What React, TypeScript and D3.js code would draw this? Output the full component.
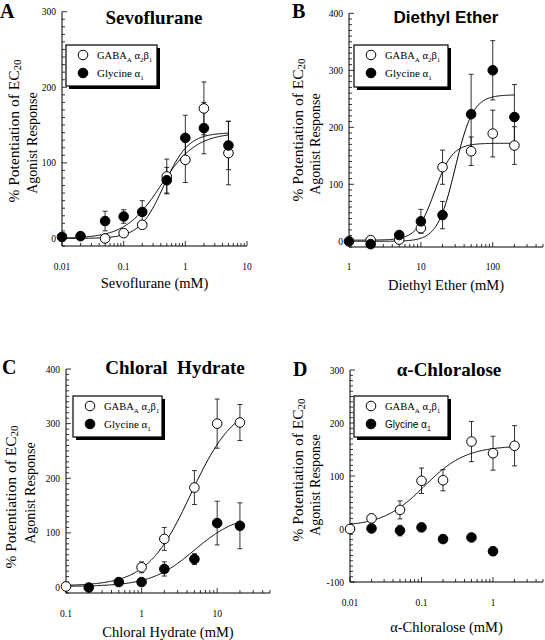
import React from 'react';
import * as d3 from 'd3';

// ---------- Panel A: Sevoflurane ----------
const sevoGabaX = [0.05, 0.1, 0.2, 0.5, 1, 2, 5];
const sevoGabaY = [0, 7, 18, 82, 104, 172, 113];
const sevoGabaErr = [3, 4, 5, 23, 30, 35, 42];
const sevoGlyX = [0.01, 0.02, 0.05, 0.1, 0.2, 0.5, 1, 2, 5];
const sevoGlyY = [2, 3, 23, 29, 35, 77, 133, 146, 123];
const sevoGlyErr = [0, 0, 13, 9, 15, 17, 30, 34, 32];
// Hill fit: bottom, top, EC50, n
const sevoGabaFit = [0, 140, 0.45, 2.2];
const sevoGlyFit = [0, 140, 0.4, 1.5];
const sevoFitRange = [0.01, 5];
const sevoXTicks = [0.01, 0.1, 1, 10];
const sevoXTickLabels = ['0.01', '0.1', '1', '10'];
const sevoYTicks = [0, 100, 200, 300];
const sevoYTickLabels = ['0', '100', '200', '300'];

// ---------- Panel B: Diethyl Ether ----------
const etherGabaX = [2, 5, 10, 20, 50, 100, 200];
const etherGabaY = [2, 3, 23, 130, 158, 189, 168];
const etherGabaErr = [0, 0, 5, 30, 25, 41, 33];
const etherGlyX = [1, 2, 5, 10, 20, 50, 100, 200];
const etherGlyY = [0, -5, 11, 35, 46, 223, 300, 218];
const etherGlyErr = [0, 0, 0, 21, 24, 70, 52, 57];
const etherGabaFit = [2, 172, 15.5, 3.5];
const etherGlyFit = [0, 257, 30, 3.5];
const etherFitRange = [1, 200];
const etherXTicks = [1, 10, 100];
const etherXTickLabels = ['1', '10', '100'];
const etherYTicks = [0, 100, 200, 300, 400];
const etherYTickLabels = ['0', '100', '200', '300', '400'];

// ---------- Panel C: Chloral Hydrate ----------
const chloralGabaX = [0.1, 1, 2, 5, 10, 20];
const chloralGabaY = [2, 37, 89, 183, 300, 302];
const chloralGabaErr = [0, 10, 21, 31, 45, 33];
const chloralGlyX = [0.2, 0.5, 1, 2, 5, 10, 20];
const chloralGlyY = [0, 10, 10, 34, 52, 118, 113];
const chloralGlyErr = [0, 0, 0, 13, 10, 40, 42];
const chloralGabaFit = [3, 340, 4.5, 1.5];
const chloralGlyFit = [2, 135, 5, 1.5];
const chloralFitRange = [0.1, 20];
const chloralXTicks = [0.1, 1, 10];
const chloralXTickLabels = ['0.1', '1', '10'];
const chloralYTicks = [0, 100, 200, 300, 400];
const chloralYTickLabels = ['0', '100', '200', '300', '400'];

// ---------- Panel D: alpha-Chloralose ----------
const chloraloseGabaX = [0.01, 0.02, 0.05, 0.1, 0.2, 0.5, 1, 2];
const chloraloseGabaY = [0, 20, 36, 91, 92, 165, 143, 157];
const chloraloseGabaErr = [0, 8, 17, 24, 20, 38, 32, 38];
const chloraloseGlyX = [0.02, 0.05, 0.1, 0.2, 0.5, 1];
const chloraloseGlyY = [1, -3, 3, -19, -16, -42];
const chloraloseGlyErr = [0, 10, 0, 0, 0, 8];
const chloraloseGabaFit = [5, 157, 0.11, 1.5];
const chloraloseFitRange = [0.01, 2];
const chloraloseXTicks = [0.01, 0.1, 1];
const chloraloseXTickLabels = ['0.01', '0.1', '1'];
const chloraloseYTicks = [-100, 0, 100, 200, 300];
const chloraloseYTickLabels = ['-100', '0', '100', '200', '300'];

const SERIF = "'Liberation Serif', 'Times New Roman', serif";
const SANS = "'Liberation Sans', Arial, Helvetica, sans-serif";

type Series = { x: number[]; y: number[]; err: number[]; filled: boolean };
type Fit = { p: number[]; range: number[] };
type PanelCfg = {
  letter: string;
  letterPos: [number, number];
  title: string;
  titleFont: string;
  titlePos: [number, number];
  xTitle: string;
  xTitleY: number;
  xDomain: [number, number];
  xRange: [number, number];
  yDomain: [number, number];
  yRange: [number, number];
  xTicks: number[];
  xTickLabels: string[];
  xLabelY: number;
  yTicks: number[];
  yTickLabels: string[];
  series: Series[];
  fits: Fit[];
  legend: [number, number, number, number];
  legendGlyFont: string;
  yTitle1: [number, number];
  yTitle2: [number, number];
};

const hill = (p: number[], x: number) => p[0] + (p[1] - p[0]) / (1 + Math.pow(p[2] / x, p[3]));

function Panel({ c }: { c: PanelCfg }) {
  const x = d3.scaleLog().domain(c.xDomain).range(c.xRange);
  const y = d3.scaleLinear().domain(c.yDomain).range(c.yRange);
  const [x0, x1] = c.xRange;
  const [yb, yt] = c.yRange;

  const yMinor = d3.range(c.yDomain[0], c.yDomain[1] + 0.001, 10);
  const kMin = Math.floor(Math.log10(c.xDomain[0]) + 1e-9);
  const kMax = Math.ceil(Math.log10(c.xDomain[1]));
  const xTickAll: { v: number; major: boolean }[] = [];
  for (let k = kMin; k <= kMax; k++) {
    for (let m = 1; m <= 9; m++) {
      const v = m * Math.pow(10, k);
      if (v >= c.xDomain[0] * 0.9999 && v <= c.xDomain[1] * 1.0001) xTickAll.push({ v, major: m === 1 });
    }
  }

  const line = d3
    .line<number[]>()
    .x((d) => x(d[0]))
    .y((d) => y(d[1]));

  const [lx, ly, lw, lh] = c.legend;

  return (
    <g>
      {/* panel letter */}
      <text x={c.letterPos[0]} y={c.letterPos[1]} fontFamily={SERIF} fontWeight="bold" fontSize={20}>
        {c.letter}
      </text>
      {/* title */}
      <text
        x={c.titlePos[0]}
        y={c.titlePos[1]}
        textAnchor="middle"
        fontFamily={c.titleFont}
        fontWeight="bold"
        fontSize={c.titleFont === SANS ? 17 : 19}
        style={{ whiteSpace: 'pre' }}
      >
        {c.title}
      </text>

      {/* axes */}
      <line x1={x0} x2={x0} y1={yb} y2={yt} stroke="#000" strokeWidth={1} />
      <line x1={x0} x2={x1} y1={yb} y2={yb} stroke="#000" strokeWidth={1} />
      {yMinor.map((v, i) => {
        const major = Math.abs(v % 100) < 1e-6;
        return <line key={'ym' + i} x1={x0} x2={x0 + (major ? 5 : 3)} y1={y(v)} y2={y(v)} stroke="#000" strokeWidth={0.8} />;
      })}
      {xTickAll.map((t, i) => (
        <line key={'xm' + i} x1={x(t.v)} x2={x(t.v)} y1={yb} y2={yb - (t.major ? 5 : 3)} stroke="#000" strokeWidth={0.8} />
      ))}
      {c.yTicks.map((v, i) => (
        <text key={'yl' + i} x={x0 - 6} y={y(v) + 3.5} textAnchor="end" fontFamily={SERIF} fontSize={9.5}>
          {c.yTickLabels[i]}
        </text>
      ))}
      {c.xTicks.map((v, i) => (
        <text key={'xl' + i} x={x(v)} y={c.xLabelY} textAnchor="middle" fontFamily={SERIF} fontSize={9.5}>
          {c.xTickLabels[i]}
        </text>
      ))}

      {/* axis titles */}
      <text x={(x0 + x1) / 2} y={c.xTitleY} textAnchor="middle" fontFamily={SERIF} fontSize={14.5}>
        {c.xTitle}
      </text>
      <text
        transform={`translate(${c.yTitle1[0]},${c.yTitle1[1]}) rotate(-90)`}
        textAnchor="middle"
        dominantBaseline="central"
        fontFamily={SERIF}
        fontSize={15.5}
      >
        % Potentiation of EC<tspan fontSize={11} dy={4}>20</tspan>
      </text>
      <text
        transform={`translate(${c.yTitle2[0]},${c.yTitle2[1]}) rotate(-90)`}
        textAnchor="middle"
        dominantBaseline="central"
        fontFamily={SERIF}
        fontSize={14}
      >
        Agonist Response
      </text>

      {/* fitted curves */}
      {c.fits.map((f, i) => {
        const pts = d3.range(0, 201).map((j) => {
          const xv = f.range[0] * Math.pow(f.range[1] / f.range[0], j / 200);
          return [xv, hill(f.p, xv)];
        });
        return <path key={'f' + i} d={line(pts) || ''} fill="none" stroke="#000" strokeWidth={1} />;
      })}

      {/* error bars */}
      {c.series.map((s, si) =>
        s.x.map((xv, i) =>
          s.err[i] > 0 ? (
            <g key={'e' + si + '-' + i} stroke="#000" strokeWidth={0.8}>
              <line x1={x(xv)} x2={x(xv)} y1={y(s.y[i] - s.err[i])} y2={y(s.y[i] + s.err[i])} />
              <line x1={x(xv) - 2.5} x2={x(xv) + 2.5} y1={y(s.y[i] - s.err[i])} y2={y(s.y[i] - s.err[i])} />
              <line x1={x(xv) - 2.5} x2={x(xv) + 2.5} y1={y(s.y[i] + s.err[i])} y2={y(s.y[i] + s.err[i])} />
            </g>
          ) : null
        )
      )}

      {/* markers */}
      {c.series.map((s, si) =>
        s.x.map((xv, i) => (
          <circle
            key={'m' + si + '-' + i}
            cx={x(xv)}
            cy={y(s.y[i])}
            r={4.8}
            fill={s.filled ? '#000' : '#fff'}
            stroke="#000"
            strokeWidth={1}
          />
        ))
      )}

      {/* legend */}
      <rect x={lx + 3} y={ly + 3} width={lw} height={lh} fill="#000" />
      <rect x={lx} y={ly} width={lw} height={lh} fill="#fff" stroke="#000" strokeWidth={1.2} />
      <circle cx={lx + 17} cy={ly + 10} r={4.8} fill="#fff" stroke="#000" strokeWidth={1} />
      <circle cx={lx + 17} cy={ly + 28} r={4.8} fill="#000" stroke="#000" strokeWidth={1} />
      <text x={lx + 31} y={ly + 14} fontFamily={SERIF} fontSize={10.5}>
        GABA<tspan fontSize={7} dy={3}>A</tspan>
        <tspan dy={-3}>{'\u00A0α'}</tspan>
        <tspan fontSize={7} dy={3}>2</tspan>
        <tspan dy={-3}>β</tspan>
        <tspan fontSize={7} dy={3}>1</tspan>
      </text>
      <text x={lx + 31} y={ly + 32} fontFamily={c.legendGlyFont} fontSize={c.legendGlyFont === SANS ? 10 : 11}>
        Glycine α<tspan fontSize={7} dy={3}>1</tspan>
      </text>
    </g>
  );
}

const panels: PanelCfg[] = [
  {
    letter: 'A',
    letterPos: [0, 18],
    title: 'Sevoflurane',
    titleFont: SERIF,
    titlePos: [154, 24],
    xTitle: 'Sevoflurane (mM)',
    xTitleY: 288,
    xDomain: [0.01, 10],
    xRange: [62, 247],
    yDomain: [-10, 300],
    yRange: [246, 11.7],
    xTicks: sevoXTicks,
    xTickLabels: sevoXTickLabels,
    xLabelY: 270,
    yTicks: sevoYTicks,
    yTickLabels: sevoYTickLabels,
    series: [
      { x: sevoGabaX, y: sevoGabaY, err: sevoGabaErr, filled: false },
      { x: sevoGlyX, y: sevoGlyY, err: sevoGlyErr, filled: true },
    ],
    fits: [
      { p: sevoGabaFit, range: sevoFitRange },
      { p: sevoGlyFit, range: sevoFitRange },
    ],
    legend: [66, 45, 91, 41],
    legendGlyFont: SERIF,
    yTitle1: [13, 131],
    yTitle2: [32, 143],
  },
  {
    letter: 'B',
    letterPos: [292, 18],
    title: 'Diethyl Ether',
    titleFont: SANS,
    titlePos: [446, 23],
    xTitle: 'Diethyl Ether (mM)',
    xTitleY: 290,
    xDomain: [1, 500],
    xRange: [349, 543],
    yDomain: [-10, 400],
    yRange: [247, 13.3],
    xTicks: etherXTicks,
    xTickLabels: etherXTickLabels,
    xLabelY: 270,
    yTicks: etherYTicks,
    yTickLabels: etherYTickLabels,
    series: [
      { x: etherGabaX, y: etherGabaY, err: etherGabaErr, filled: false },
      { x: etherGlyX, y: etherGlyY, err: etherGlyErr, filled: true },
    ],
    fits: [
      { p: etherGabaFit, range: etherFitRange },
      { p: etherGlyFit, range: etherFitRange },
    ],
    legend: [354, 45, 94, 42],
    legendGlyFont: SERIF,
    yTitle1: [297, 130],
    yTitle2: [315, 144],
  },
  {
    letter: 'C',
    letterPos: [2, 374],
    title: 'Chloral\u00A0\u00A0Hydrate',
    titleFont: SERIF,
    titlePos: [175, 374],
    xTitle: 'Chloral Hydrate (mM)',
    xTitleY: 637,
    xDomain: [0.1, 50],
    xRange: [66, 270],
    yDomain: [-10, 400],
    yRange: [593, 369],
    xTicks: chloralXTicks,
    xTickLabels: chloralXTickLabels,
    xLabelY: 617,
    yTicks: chloralYTicks,
    yTickLabels: chloralYTickLabels,
    series: [
      { x: chloralGabaX, y: chloralGabaY, err: chloralGabaErr, filled: false },
      { x: chloralGlyX, y: chloralGlyY, err: chloralGlyErr, filled: true },
    ],
    fits: [
      { p: chloralGabaFit, range: chloralFitRange },
      { p: chloralGlyFit, range: chloralFitRange },
    ],
    legend: [73, 396, 89, 41],
    legendGlyFont: SERIF,
    yTitle1: [10, 497],
    yTitle2: [30, 493],
  },
  {
    letter: 'D',
    letterPos: [293, 376],
    title: 'α-Chloralose',
    titleFont: SERIF,
    titlePos: [449, 376],
    xTitle: 'α-Chloralose (mM)',
    xTitleY: 632,
    xDomain: [0.01, 5],
    xRange: [350, 543],
    yDomain: [-100, 300],
    yRange: [582, 370],
    xTicks: chloraloseXTicks,
    xTickLabels: chloraloseXTickLabels,
    xLabelY: 606,
    yTicks: chloraloseYTicks,
    yTickLabels: chloraloseYTickLabels,
    series: [
      { x: chloraloseGabaX, y: chloraloseGabaY, err: chloraloseGabaErr, filled: false },
      { x: chloraloseGlyX, y: chloraloseGlyY, err: chloraloseGlyErr, filled: true },
    ],
    fits: [{ p: chloraloseGabaFit, range: chloraloseFitRange }],
    legend: [354, 396, 94, 41],
    legendGlyFont: SANS,
    yTitle1: [297, 470],
    yTitle2: [315, 485],
  },
];

export default function App() {
  return (
    <svg
      width={545}
      height={640}
      viewBox="0 0 545 640"
      style={{ position: 'absolute', left: 0, top: 0, background: '#fff' }}
    >
      <rect x={0} y={0} width={545} height={640} fill="#fff" />
      {panels.map((p) => (
        <Panel key={p.letter} c={p} />
      ))}
    </svg>
  );
}
